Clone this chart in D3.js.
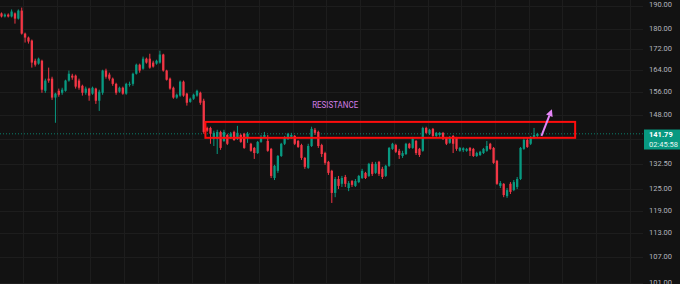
<!DOCTYPE html>
<html><head><meta charset="utf-8">
<script src="https://cdn.jsdelivr.net/npm/d3@7"></script>
<style>html,body{margin:0;padding:0;background:#121212;overflow:hidden}</style>
</head><body><svg id="c" width="680" height="284"></svg>
<script>
const opens = [
186.6,185.3,186.1,185.3,186.6,184.4,187.8,178.2,176.6,175.4,
167.5,166.4,167.5,156.4,160.8,160.8,154.0,156.4,155.7,156.4,
160.1,161.9,161.9,160.1,158.2,155.7,157.2,155.4,157.2,152.9,
155.7,163.8,162.3,160.8,158.9,156.1,157.5,155.4,158.6,158.9,
162.6,166.0,164.5,168.3,168.3,166.8,166.4,166.8,169.9,163.8,
160.8,157.5,154.0,154.7,159.7,155.4,152.5,153.6,154.7,155.7,
152.9,143.7,143.7,140.2,140.2,142.4,139.5,141.4,140.5,142.4,
140.2,141.4,141.8,140.5,138.6,137.3,135.7,139.2,140.8,139.5,
137.0,128.2,130.3,134.8,138.6,140.2,140.8,141.1,139.5,138.2,
134.2,131.2,137.9,143.1,142.4,138.2,135.7,133.0,130.3,123.9,
127.9,126.5,128.5,125.3,127.3,125.9,127.0,128.2,129.7,128.8,
132.4,129.7,133.0,130.9,128.8,131.8,137.0,138.2,136.4,134.8,
135.4,138.6,137.3,139.5,137.0,136.4,143.7,141.8,143.4,141.1,
141.4,142.1,140.5,138.9,141.1,140.5,136.4,136.6,136.4,137.3,
137.0,134.8,135.1,135.7,136.4,138.6,137.3,133.3,125.9,126.5,
123.0,126.5,124.7,125.6,127.9,137.0,139.8,138.6,140.5,141.1];
const closes = [
185.3,186.1,185.3,187.4,184.4,187.8,178.2,176.6,175.0,166.8,
166.0,168.3,156.8,160.1,160.1,154.0,155.4,155.0,156.8,160.1,
162.6,161.2,157.9,157.5,155.7,157.2,154.7,157.5,152.9,156.1,
163.8,161.5,160.8,158.9,155.7,157.5,155.4,158.9,158.9,162.6,
166.0,163.8,168.3,166.8,164.9,165.3,167.5,169.9,163.8,160.4,
157.2,154.0,155.0,159.7,154.7,152.2,153.6,155.0,156.4,152.2,
142.4,142.8,141.8,142.1,142.4,137.3,142.4,138.6,141.8,139.8,
142.1,139.2,137.3,141.8,136.4,135.7,139.2,140.8,141.4,136.4,
128.8,131.8,134.8,138.6,140.5,141.8,141.4,138.6,137.6,134.2,
131.5,137.9,143.4,142.1,137.9,135.4,132.7,129.7,123.9,127.9,
125.9,128.2,126.5,126.7,126.2,127.3,128.8,130.3,128.2,132.4,
129.4,132.4,129.4,128.5,131.8,137.3,138.6,136.1,135.1,135.7,
138.6,137.3,140.2,135.7,135.1,143.7,142.1,143.1,141.1,142.1,
142.1,140.2,138.6,140.8,138.6,137.0,137.3,137.2,137.0,136.4,
134.8,135.7,136.1,137.0,137.9,137.0,132.7,126.5,126.7,123.3,
124.7,124.2,127.0,127.9,137.3,139.8,137.6,140.8,141.4,141.79];
const highs = [
187.0,186.6,186.6,188.3,187.0,188.3,189.1,178.6,177.0,175.8,
168.3,168.7,167.9,160.8,164.9,161.5,155.7,157.2,157.5,160.4,
163.8,162.6,162.3,160.8,158.6,157.9,157.5,157.9,157.5,156.8,
164.1,164.5,163.0,161.2,159.3,157.9,157.9,159.3,159.7,163.0,
166.4,166.4,169.1,168.7,170.2,167.5,167.9,171.4,170.2,164.1,
161.2,157.9,155.4,160.1,160.1,155.7,154.0,155.4,156.8,156.1,
153.6,144.1,144.1,142.8,143.1,142.8,143.1,141.8,142.4,142.8,
144.4,141.8,142.1,142.4,138.9,137.6,139.5,141.4,142.4,141.4,
137.3,132.1,135.1,138.9,141.1,142.1,142.1,141.4,139.8,138.6,
134.5,138.6,144.1,143.7,142.8,138.6,136.1,133.3,130.6,128.5,
128.8,128.8,129.1,127.3,127.6,127.9,129.1,130.9,130.0,132.7,
133.0,133.0,133.3,131.5,132.1,137.6,138.9,138.6,137.0,136.4,
138.9,138.9,140.8,139.8,137.3,144.1,144.1,143.4,143.7,142.4,
142.4,142.4,140.8,141.1,141.4,140.8,137.6,137.5,137.3,137.6,
137.3,136.1,136.4,137.3,139.5,138.9,137.6,133.6,127.3,126.7,
125.3,127.0,127.6,128.5,137.6,140.5,140.5,141.1,143.7,142.1];
const lows = [
184.9,184.9,184.9,184.9,182.3,184.0,177.8,174.6,174.2,164.9,
165.3,166.0,155.7,155.7,159.3,153.2,145.4,154.3,155.0,156.1,
159.7,160.4,157.2,156.8,154.7,155.0,152.9,155.0,151.8,149.4,
155.0,160.8,160.1,158.2,155.0,155.7,155.0,155.0,157.9,158.2,
162.3,163.0,164.1,166.4,164.5,164.9,166.0,166.4,163.4,160.1,
156.8,153.6,153.6,154.3,154.3,151.2,152.2,153.2,154.3,151.5,
141.8,142.4,138.6,137.9,135.4,136.7,139.2,138.2,140.2,139.5,
139.8,138.9,137.0,138.9,136.1,133.9,135.4,138.9,140.5,136.1,
128.2,127.6,129.7,134.5,138.2,139.8,140.2,138.2,137.3,133.6,
130.9,130.9,137.6,141.4,137.3,134.5,132.1,129.1,121.1,122.7,
125.0,125.6,125.6,124.4,125.6,125.6,126.7,127.9,127.9,128.5,
128.8,129.4,128.8,127.9,128.5,131.5,136.7,135.7,133.9,134.2,
135.1,137.0,137.0,135.1,134.5,136.1,141.8,141.4,140.8,140.8,
140.8,139.8,138.2,138.6,135.7,136.4,136.1,136.0,136.1,134.8,
134.5,134.5,134.8,135.4,136.1,136.7,132.4,126.2,125.3,122.7,
122.5,123.6,124.4,125.0,127.6,136.7,137.3,138.2,140.2,140.8];

const tickValues = [190, 180, 172, 164, 156, 148, 132.5, 125, 119, 113, 107, 101];
const gridValues = [190, 180, 172, 164, 156, 148, 140, 132.5, 125, 119, 113, 107, 101];
const gridIndex = [6.4, 16.4, 26.4, 36.4, 46.4, 56.4, 66.4, 76.4, 86.4, 96.4, 106.4, 116.4, 126.4, 136.4, 146.4, 156.4, 166.4, 176.4, 186.4];
const lastPrice = 141.79;
const countdown = "02:45:58";
const zone = { i0: 60.5, i1: 170.2, top: 145.7, bottom: 140.5 };
const zoneLabel = { text: "RESISTANCE", i: 99, p: 151.3 };
const arrow = { i0: 160.2, p0: 141.1, i1: 163.3, p1: 150.0 };

const W = 680, H = 284, plotW = 643;
const N = closes.length;
const data = d3.range(N).map(i => ({ i, o: opens[i], h: highs[i], l: lows[i], c: closes[i] }));

const x = d3.scaleLinear().domain([0, N - 1]).range([1.5, 537.4]);
const y = d3.scaleLog().domain([100.66, 192.4]).range([H, 0]);

const UP = "#089981", DN = "#f23645";
const svg = d3.select("#c");
svg.append("rect").attr("width", W).attr("height", H).attr("fill", "#121212");

const grid = svg.append("g").attr("stroke", "#1d1d1d").attr("stroke-width", 1);
grid.selectAll("line.h").data(gridValues).join("line").attr("class", "h")
  .attr("x1", 0).attr("x2", plotW)
  .attr("y1", d => Math.round(y(d)) + 0.5).attr("y2", d => Math.round(y(d)) + 0.5);
grid.selectAll("line.v").data(gridIndex).join("line").attr("class", "v")
  .attr("y1", 0).attr("y2", H)
  .attr("x1", d => Math.round(x(d)) + 0.5).attr("x2", d => Math.round(x(d)) + 0.5);

// last price dotted line
svg.append("line").attr("x1", 0).attr("x2", plotW)
  .attr("y1", y(lastPrice)).attr("y2", y(lastPrice))
  .attr("stroke", UP).attr("stroke-width", 1).attr("stroke-dasharray", "1,2").attr("opacity", 0.8);

// candles
const cg = svg.append("g");
cg.selectAll("line.w").data(data).join("line").attr("class", "w")
  .attr("x1", d => x(d.i)).attr("x2", d => x(d.i))
  .attr("y1", d => y(d.h)).attr("y2", d => y(d.l))
  .attr("stroke", d => d.c >= d.o ? UP : DN).attr("stroke-width", 1);
const bw = 2.3;
cg.selectAll("rect.b").data(data).join("rect").attr("class", "b")
  .attr("x", d => x(d.i) - bw / 2).attr("width", bw)
  .attr("y", d => y(Math.max(d.o, d.c)))
  .attr("height", d => Math.max(1, Math.abs(y(d.o) - y(d.c))))
  .attr("fill", d => d.c >= d.o ? UP : DN);

// resistance zone
svg.append("rect")
  .attr("x", x(zone.i0)).attr("y", y(zone.top))
  .attr("width", x(zone.i1) - x(zone.i0)).attr("height", y(zone.bottom) - y(zone.top))
  .attr("fill", "none").attr("stroke", "#ff0d0d").attr("stroke-width", 2);

svg.append("text").attr("x", x(zoneLabel.i)).attr("y", y(zoneLabel.p))
  .attr("text-anchor", "middle").attr("dominant-baseline", "middle")
  .attr("font-family", "Roboto, 'Liberation Sans', sans-serif").attr("font-size", 8.5)
  .attr("textLength", 46).attr("lengthAdjust", "spacingAndGlyphs")
  .attr("fill", "#d27ee6").text(zoneLabel.text);

// arrow
const ax0 = x(arrow.i0), ay0 = y(arrow.p0), ax1 = x(arrow.i1), ay1 = y(arrow.p1);
const ang = Math.atan2(ay1 - ay0, ax1 - ax0);
const hl = 7, hw = 3.5;
const bx = ax1 - hl * Math.cos(ang), by = ay1 - hl * Math.sin(ang);
svg.append("line").attr("x1", ax0).attr("y1", ay0).attr("x2", bx).attr("y2", by)
  .attr("stroke", "#e585f7").attr("stroke-width", 2);
svg.append("path").attr("d", `M${ax1},${ay1}L${bx + hw * Math.sin(ang)},${by - hw * Math.cos(ang)}L${bx - hw * Math.sin(ang)},${by + hw * Math.cos(ang)}Z`)
  .attr("fill", "#e585f7");

// price axis labels
const fmt = d3.format(".2f");
svg.append("g").selectAll("text").data(tickValues).join("text")
  .attr("x", 649).attr("y", d => y(d))
  .attr("dominant-baseline", "middle")
  .attr("font-family", "Roboto, 'Liberation Sans', sans-serif").attr("font-size", 7.5)
  .attr("fill", "#b2b5be").text(d => fmt(d));

// last price label
const ly = y(lastPrice);
svg.append("rect").attr("x", 644).attr("y", ly - 4.3).attr("width", 36).attr("height", 20).attr("fill", UP);
svg.append("text").attr("x", 649).attr("y", ly + 1.3).attr("dominant-baseline", "middle")
  .attr("font-family", "Roboto, 'Liberation Sans', sans-serif").attr("font-size", 7.5).attr("font-weight", "bold")
  .attr("fill", "#ffffff").text(fmt(lastPrice));
svg.append("text").attr("x", 649).attr("y", ly + 10.8).attr("dominant-baseline", "middle")
  .attr("font-family", "Roboto, 'Liberation Sans', sans-serif").attr("font-size", 7.5)
  .attr("fill", "#e6f5f1").text(countdown);
</script></body></html>
